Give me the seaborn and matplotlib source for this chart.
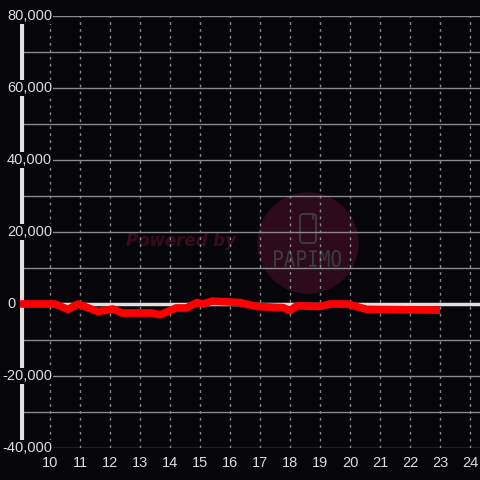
import numpy as np
import pandas as pd
import matplotlib.pyplot as plt
import matplotlib.patches as mpatches
from matplotlib.textpath import TextPath
from matplotlib.font_manager import FontProperties
from matplotlib.transforms import blended_transform_factory, Affine2D
import seaborn as sns

# hour of day vs value
hours = [9.0, 10.17, 10.6, 10.93, 11.6, 12.1, 12.4, 13.4, 13.67, 14.2, 14.55,
         14.9, 15.1, 15.4, 16.33, 16.9, 17.77, 18.0, 18.23, 19.0, 19.33, 19.9,
         20.57, 23.0]
values = [0, 0, -1500, 0, -2100, -1400, -2500, -2500, -3000, -1100, -1100,
          400, 0, 800, 400, -700, -1000, -1800, -500, -700, 0, 0,
          -1500, -1700]
y_ticks = [-40000, -20000, 0, 20000, 40000, 60000, 80000]
x_ticks = list(range(10, 25))

bg = '#060509'
sns.set_style('dark')
plt.rcParams['font.family'] = ['Liberation Sans', 'DejaVu Sans']

df = pd.DataFrame({'hour': hours, 'value': values})

fig = plt.figure(figsize=(4.8, 4.8), dpi=100, facecolor=bg)
ax = fig.add_axes([20/480, 32/480, 460/480, 432/480])
ax.set_facecolor(bg)
ax.set_xlim(9, 9 + 460/30)
ax.set_ylim(-40000, 80000)

px = Affine2D().scale(1/480) + fig.transFigure  # pixel coords, origin bottom left

# watermark, under the grid
ax.add_patch(mpatches.Circle((308, 480 - 243), 50, transform=px,
                             color='#2d0b1d', zorder=0.5, clip_on=False))
ax.add_patch(mpatches.FancyBboxPatch((300, 480 - 243), 16, 29,
                                     boxstyle='round,pad=0,rounding_size=3',
                                     transform=px, fc='none', ec='#404040',
                                     lw=1.3, zorder=0.6, clip_on=False))
ax.plot([310, 313, 313], [480 - 214, 480 - 214, 480 - 219], transform=px,
        color='#404040', lw=1.3, zorder=0.6, clip_on=False)
tp = TextPath((0, 0), 'PAPIMO', size=20, prop=FontProperties(family='DejaVu Sans Mono'))
ext = tp.get_extents()
tp_tr = (Affine2D().translate(-ext.x0, -ext.y0)
         .scale(67 / ext.width, 17 / ext.height)
         .translate(274, 480 - 267))
ax.add_patch(mpatches.PathPatch(tp_tr.transform_path(tp), transform=px,
                                fc='#3c3c3c', ec='none', zorder=0.6, clip_on=False))
ax.text(181, 480 - 241, 'Powered by', transform=px, ha='center', va='center',
        color='#3a0b1e', fontsize=12, fontweight='bold', fontstyle='italic',
        family='DejaVu Sans', zorder=0.6)

# grid
for y in range(-40000, 80001, 10000):
    ax.axhline(y, color='#8a8a8a', lw=1, zorder=1)
for x in x_ticks:
    ax.axvline(x, color='#8a8a8a', lw=1, ls=(0, (2, 3)), zorder=1)
ax.axhline(0, color='#e0e0e0', lw=2.5, zorder=2)

for s in ax.spines.values():
    s.set_visible(False)
ax.plot([9.05, 9.05], [-40000, 78000], color='#e0e0e0', lw=3, zorder=2,
        solid_capstyle='butt')

sns.lineplot(data=df, x='hour', y='value', color='#ff0000', lw=5.5,
             estimator=None, ax=ax, zorder=4)
line = ax.lines[-1]
line.set_solid_joinstyle('round')
line.set_solid_capstyle('butt')
line.set_clip_on(False)

ax.set_xlabel('')
ax.set_ylabel('')
ax.set_yticks([])
ax.set_xticks(x_ticks)
ax.set_xticklabels([str(x) for x in x_ticks], color='#dddddd', fontsize=10.5)
ax.tick_params(axis='x', length=0, pad=6)

trans = blended_transform_factory(fig.transFigure, ax.transData)
for y in y_ticks:
    xr = 16/480 if y == 0 else 52/480
    ax.text(xr, y, f'{y:,}', transform=trans, ha='right', va='center',
            color='#dddddd', fontsize=10.5, zorder=5,
            bbox=dict(boxstyle='square,pad=0.05', fc=bg, ec='none'))

fig.savefig('out.png', dpi=100, facecolor=bg)
